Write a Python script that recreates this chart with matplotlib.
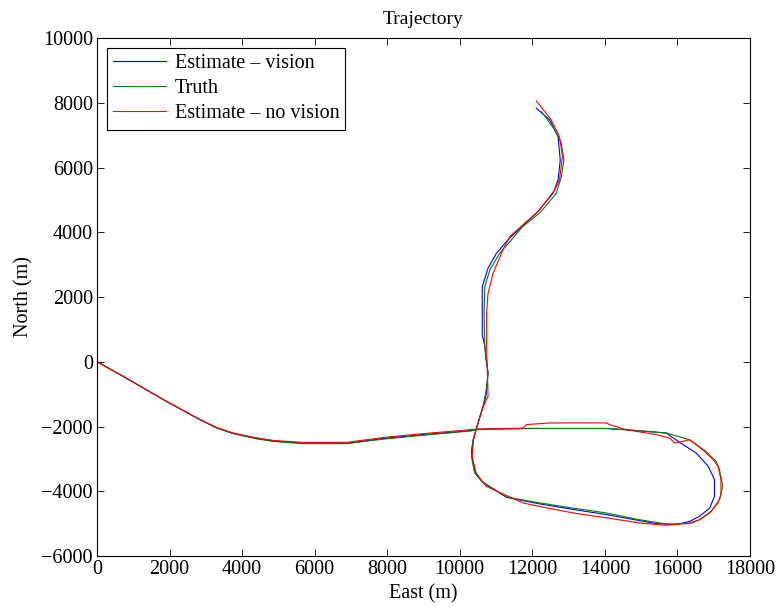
import matplotlib
matplotlib.use("Agg")
import matplotlib.pyplot as plt

# trajectory estimates (metres)
vision_east = [0, 720, 1830, 2840, 3300, 3750, 4400, 4860, 5680, 6880, 7890, 8990, 10280, 10460,
               11000, 12000, 13000, 14000, 14590, 15690, 16060, 16520, 16850, 17020, 17020,
               16890, 16610, 16340, 15970, 15420, 14040, 13120, 12200, 11290, 10600, 10400,
               10320, 10370, 10460, 10640, 10720, 10780, 10720, 10690, 10620, 10620, 10780,
               11010, 11330, 12110, 12570, 12710, 12770, 12710, 12480, 12110]
vision_north = [0, -450, -1170, -1790, -2040, -2210, -2370, -2450, -2520, -2520, -2370, -2250, -2130,
                -2090, -2070, -2060, -2060, -2060, -2100, -2200, -2490, -2820, -3230, -3640,
                -4160, -4520, -4770, -4930, -5030, -5000, -4720, -4560, -4390, -4190, -3690,
                -3350, -2770, -2400, -2050, -1380, -1070, -350, 100, 470, 830, 2320, 2890,
                3350, 3770, 4590, 5200, 5620, 6230, 6950, 7470, 7830]

truth_east = [0, 720, 1830, 2840, 3300, 3750, 4400, 4860, 5680, 6880, 7890, 8990, 10280, 10460,
              11000, 12000, 13000, 14000, 14590, 15690, 16340, 16790, 17070, 17160, 17250,
              17160, 16930, 16610, 16340, 15690, 14960, 14040, 13120, 11930, 11290, 10640,
              10410, 10320, 10370, 10460, 10640, 10730, 10780, 10690, 10670, 10690, 10830,
              11100, 11380, 11740, 12200, 12660, 12800, 12870, 12800, 12620, 12250]
truth_north = [0, -450, -1170, -1790, -2050, -2220, -2380, -2460, -2530, -2530, -2390, -2270, -2140,
               -2100, -2080, -2060, -2060, -2060, -2100, -2200, -2410, -2770, -3080, -3330,
               -3850, -4260, -4620, -4880, -5000, -5010, -4880, -4670, -4520, -4310, -4180,
               -3740, -3440, -2920, -2410, -2050, -1380, -860, -350, 470, 1500, 2320, 2840,
               3350, 3710, 4180, 4590, 5200, 5720, 6230, 6750, 7160, 7730]

novision_east = [0, 720, 1830, 2840, 3300, 3750, 4400, 4860, 5680, 6880, 7890, 8990, 10280, 10460,
                 11740, 11840, 12480, 14040, 14130, 14590, 15420, 15790, 15920, 16340, 16700,
                 16980, 17120, 17200, 17200, 17120, 16890, 16610, 16340, 15690, 14960, 14040,
                 13120, 12200, 11740, 10730, 10450, 10340, 10380, 10460, 10650, 10780, 10740,
                 10740, 10780, 10920, 11190, 11380, 12200, 12620, 12750, 12830, 12750, 12520,
                 12110]
novision_north = [0, -450, -1170, -1790, -2030, -2200, -2350, -2430, -2490, -2490, -2340, -2220,
                  -2100, -2080, -2050, -1940, -1890, -1890, -1940, -2100, -2250, -2360, -2510,
                  -2410, -2720, -3020, -3230, -3640, -4100, -4360, -4670, -4880, -4980, -5050,
                  -4980, -4820, -4670, -4470, -4360, -3850, -3440, -2920, -2410, -2050, -1380,
                  -1070, 470, 1500, 2120, 2740, 3460, 3870, 4690, 5310, 5620, 6340, 6950, 7470,
                  8060]

plt.rcParams.update({"font.family": "Liberation Serif", "font.size": 14.5})

fig = plt.figure(figsize=(7.8, 6.07), dpi=100)
ax = fig.add_axes([0.1244, 0.0840, 0.8371, 0.8534])
ax.plot(vision_east, vision_north, color="#0000ff", lw=0.8, label="Estimate \u2013 vision")
ax.plot(truth_east, truth_north, color="#008000", lw=0.8, label="Truth")
ax.plot(novision_east, novision_north, color="#ff0000", lw=0.8, label="Estimate \u2013 no vision")

ax.set_xlim(0, 18000)
ax.set_ylim(-6000, 10000)
ax.set_xticks(range(0, 18001, 2000))
ax.set_yticks(range(-6000, 10001, 2000))
ax.tick_params(direction="in", top=True, right=True, length=5, width=0.6, pad=3)
for s in ax.spines.values():
    s.set_linewidth(0.8)
ax.set_xlabel("East (m)", labelpad=4)
ax.set_ylabel("North (m)", labelpad=6)
ax.set_title("Trajectory", fontsize=14, pad=10)

leg = ax.legend(loc="upper left", fancybox=False, edgecolor="black", framealpha=1,
                handlelength=2.6, handletextpad=0.45, labelspacing=0.3,
                borderaxespad=0.5, borderpad=0.3)
leg.get_frame().set_linewidth(0.8)

fig.savefig("out.png", dpi=100)
